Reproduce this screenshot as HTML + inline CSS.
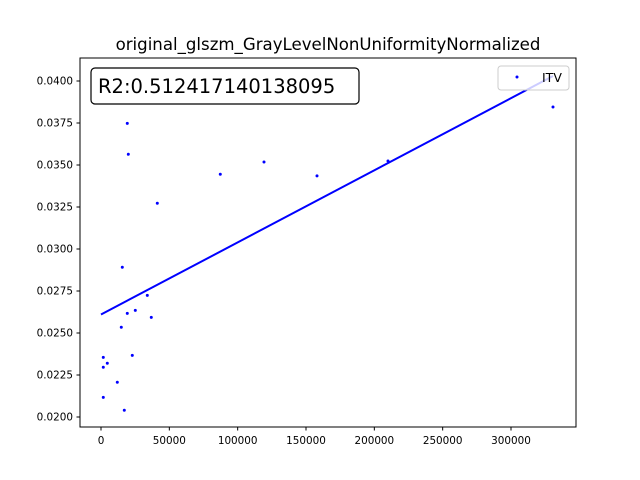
<!DOCTYPE html>
<html><head><meta charset="utf-8"><style>body{margin:0;background:#fff}svg{display:block}</style></head>
<body>
<svg id="c" width="640" height="480" xmlns="http://www.w3.org/2000/svg" font-family="DejaVu Sans, Liberation Sans, sans-serif">
<rect width="640" height="480" fill="#fff"/>
<text x="328" y="50" font-size="16.6" text-anchor="middle">original_glszm_GrayLevelNonUniformityNormalized</text>
<g id="plot"></g>
<rect x="80" y="58" width="496" height="369" fill="none" stroke="#000" stroke-width="1"/>
<g>
<rect x="91" y="68" width="268" height="36" rx="4" fill="#fff" stroke="#000" stroke-width="1.2"/>
<text x="98" y="93" font-size="19.5">R2:0.512417140138095</text>
</g>
<g>
<rect x="498" y="66" width="71" height="24" rx="3" fill="#fff" fill-opacity="0.8" stroke="#ccc"/>
<circle cx="517" cy="77" r="1.5" fill="#0000ff"/>
<text x="542" y="82" font-size="12.5">ITV</text>
</g>
</svg>
<script>
const xs=[19240,19975,87290,41195,15585,33880,19240,25100,36800,14850,1680,22900,4610,1680,11930,1680,17050,119270,158050,210000,330730];
const ys=[0.03748,0.03564,0.03445,0.03272,0.02891,0.02724,0.02617,0.02635,0.02593,0.02534,0.02355,0.02367,0.02320,0.02296,0.02207,0.02117,0.02040,0.03518,0.03435,0.03524,0.03845];
const fitIntercept=[0.0261];
const fitSlope=[4.292e-8];
const xTicks=[0,50000,100000,150000,200000,250000,300000];
const yTicks=[0.0200,0.0225,0.0250,0.0275,0.0300,0.0325,0.0350,0.0375,0.0400];
const NS="http://www.w3.org/2000/svg";
const X=v=>101+v*(410/300000);
const Y=v=>417-(v-0.02)*(336/0.02);
const g=document.getElementById('plot');
function el(t,a){const e=document.createElementNS(NS,t);for(const k in a)e.setAttribute(k,a[k]);g.appendChild(e);return e;}
xTicks.forEach(t=>{
 const l=el('line',{x1:X(t),x2:X(t),y1:427,y2:430.5,stroke:'#000'});
 
 
 const tx=el('text',{x:X(t),y:444,'font-size':10.4,'text-anchor':'middle'});tx.textContent=t;
 
 
});
yTicks.forEach(t=>{
 const l=el('line',{x1:76.5,x2:80,y1:Y(t),y2:Y(t),stroke:'#000'});
 
 
 const tx=el('text',{x:73,y:Y(t)+3.5,'font-size':10.4,'text-anchor':'end'});tx.textContent=t.toFixed(4);
 
 
});
const xmin=0,xmax=Math.max(...xs);
const fl=el('line',{x1:X(xmin),y1:Y(fitIntercept[0]+fitSlope[0]*xmin),x2:X(xmax),y2:Y(fitIntercept[0]+fitSlope[0]*xmax),stroke:'#0000ff','stroke-width':2});


xs.forEach((x,i)=>{
 const c=el('circle',{cx:X(x),cy:Y(ys[i]),r:1.5,fill:'#0000ff'});
 
 
});
</script>
</body></html>
